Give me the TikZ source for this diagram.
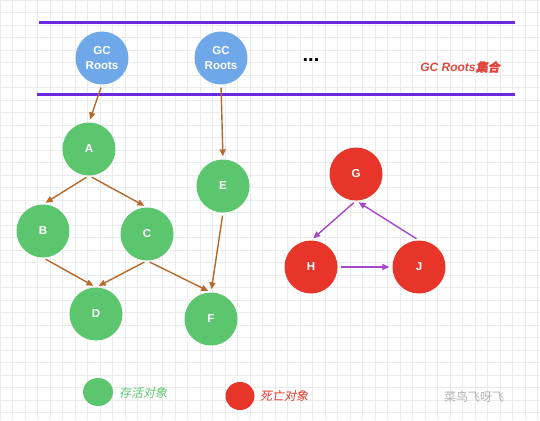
\documentclass[tikz,border=0pt]{standalone}
\usepackage{fontspec}
\setmainfont{Liberation Sans}
\newfontfamily\cjk{Noto Sans CJK SC}
\newfontfamily\cjkit{Noto Sans CJK SC}[FakeSlant=0.2]
\newfontfamily\cjkbi{Noto Sans CJK SC}[FakeSlant=0.2,FakeBold=1.5]
\usetikzlibrary{arrows.meta,shapes.geometric}
\definecolor{rootblue}{HTML}{6FA8E8}
\definecolor{livegreen}{HTML}{5CC66E}
\definecolor{deadred}{HTML}{E8352A}
\definecolor{barpurple}{HTML}{6A2BE0}
\definecolor{refbrown}{HTML}{B8692A}
\definecolor{cyclepurple}{HTML}{A648CC}
\definecolor{labelred}{HTML}{E0463C}
\begin{document}
\begin{tikzpicture}[x=1pt,y=-1pt,
  obj/.style={circle,minimum size=53pt,inner sep=0pt,text=white,font=\bfseries\fontsize{11.5}{15}\selectfont},
  root/.style={obj,fill=rootblue,align=center},
  live/.style={obj,fill=livegreen},
  dead/.style={obj,fill=deadred},
  ref/.style={-{Triangle[length=7pt,width=6pt]},refbrown,line width=1.4pt,shorten >=3pt,shorten <=3pt},
  cyc/.style={ref,cyclepurple},
  bar/.style={barpurple,line width=3pt}]
\useasboundingbox (0,0) rectangle (540,420);
\fill[white] (0,0) rectangle (540,420);
\draw[black!8,step=12.5pt] (0,0) grid (540,420);
\draw[bar] (39,23) -- (515,23);
\draw[bar] (37,94) -- (515,94);
\node[root] (r1) at (102,58) {GC\\Roots};
\node[root] (r2) at (221,58) {GC\\Roots};
\node[font=\bfseries\fontsize{20}{20}\selectfont] (more) at (311,60) {...};
\node[text=labelred,font=\bfseries\itshape\fontsize{12}{14}\selectfont] (set) at (460,67) {GC Roots{\cjkbi 集合}};
\node[live] (A) at (89,149) {A};
\node[live] (B) at (43,231) {B};
\node[live] (C) at (147,234) {C};
\node[live] (D) at (96,314) {D};
\node[live] (E) at (223,186) {E};
\node[live] (F) at (211,319) {F};
\node[dead] (G) at (356,174) {G};
\node[dead] (H) at (311,267) {H};
\node[dead] (J) at (419,267) {J};
\draw[ref] (r1.south) -- (A.north);
\draw[ref] (r2.south) -- (E.north);
\draw[ref] (A.south) -- (B.north);
\draw[ref] (A.south) -- (C.north);
\draw[ref] (B.south) -- (D.north);
\draw[ref] (C.south) -- (D.north);
\draw[ref] (C.south) -- (F.north);
\draw[ref] (E.south) -- (F.north);
\draw[cyc] (G.south) -- (H.north);
\draw[cyc] (J.north) -- (G.south);
\draw[cyc] (H.east) -- (J.west);
\node[ellipse,fill=livegreen,minimum width=30pt,minimum height=28pt,inner sep=0pt] (k1) at (98,392) {};
\node[text=livegreen,font=\cjkit\fontsize{12}{14}\selectfont] (k1t) at (143,393) {存活对象};
\node[ellipse,fill=deadred,minimum width=29pt,minimum height=28pt,inner sep=0pt] (k2) at (240,396) {};
\node[text=deadred,font=\cjkit\fontsize{12}{14}\selectfont] (k2t) at (284,396) {死亡对象};
\node[text=black!30,font=\cjk\fontsize{12}{14}\selectfont] (mark) at (474,397) {菜鸟飞呀飞};
\end{tikzpicture}
\end{document}
